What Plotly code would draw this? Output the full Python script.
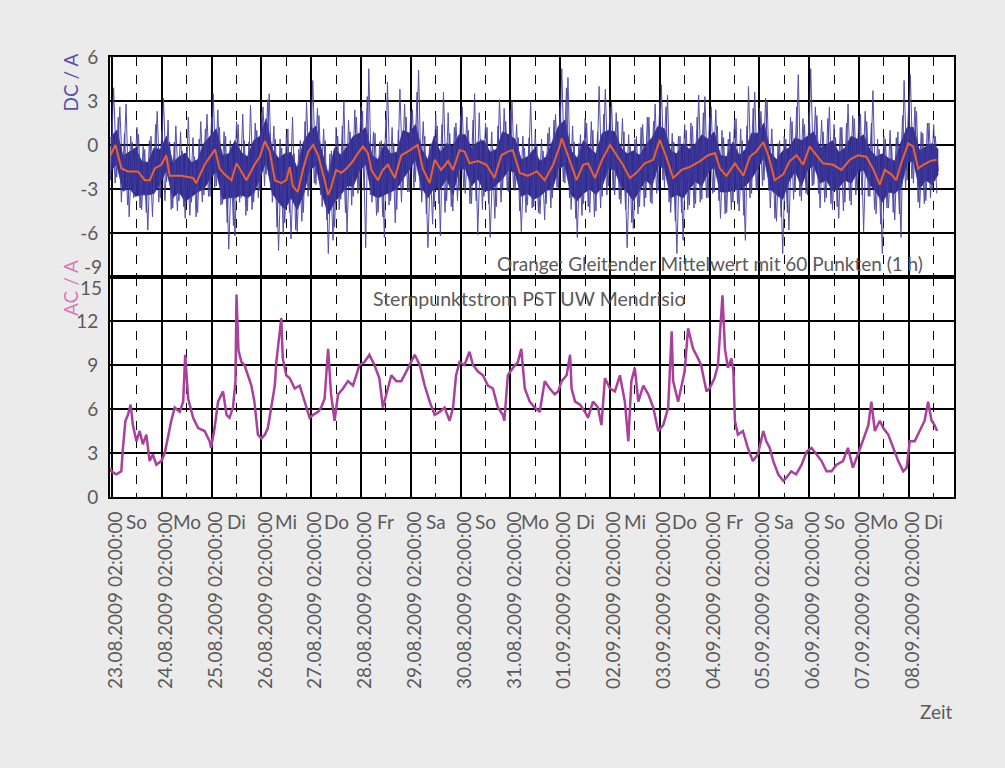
import plotly.graph_objects as go
from plotly.subplots import make_subplots

# ---------------- data ----------------
# time axis: days since 23.08.2009 02:00:00
date_labels = ["23.08.2009 02:00:00", "24.08.2009 02:00:00", "25.08.2009 02:00:00",
               "26.08.2009 02:00:00", "27.08.2009 02:00:00", "28.08.2009 02:00:00",
               "29.08.2009 02:00:00", "30.08.2009 02:00:00", "31.08.2009 02:00:00",
               "01.09.2009 02:00:00", "02.09.2009 02:00:00", "03.09.2009 02:00:00",
               "04.09.2009 02:00:00", "05.09.2009 02:00:00", "06.09.2009 02:00:00",
               "07.09.2009 02:00:00", "08.09.2009 02:00:00"]
day_names = ["So", "Mo", "Di", "Mi", "Do", "Fr", "Sa", "So", "Mo", "Di", "Mi",
             "Do", "Fr", "Sa", "So", "Mo", "Di"]

# DC raw spikes (series A), every 1.5 h starting 23.08.2009 ~01:15
dc_t0 = -0.03
dc_dt = 1.0 / 16.0
dc_raw = [
    -2.4, 3.9, -2.2, 2.6, -2.85, 2.8, -4.9, 0.2, -3.2, 0.75, -4.4, -0.3, -5.8, 0.6, -3.2, 2.3,
    -3.6, 3.2, -2.5, 0.2, -4.3, 1.3, -3.8, -0.4, -5.0, 1.9, -3.9, -0.8, -4.6, 1.6, -3.4, 2.1,
    -3.5, 3.5, -2.8, 1.2, -4.0, 0.6, -7.1, -0.6, -6.2, 1.4, -3.6, 0.3, -4.5, 2.7, -3.9, 1.0,
    -3.1, 2.6, -2.0, 3.5, -3.9, 0.4, -7.2, -0.2, -5.3, 1.1, -6.4, -0.6, -5.9, 0.3, -4.6, 2.9,
    -3.0, 4.4, -2.7, 2.0, -4.2, 0.3, -7.4, -0.4, -5.6, 0.6, -3.7, 3.0, -6.0, 0.9, -3.5, 1.9,
    -2.9, 2.3, -7.0, 5.2, -3.9, 0.8, -4.6, 0.3, -6.3, 4.3, -3.8, 0.1, -4.4, 3.8, -3.0, 1.9,
    -3.2, 2.4, -2.5, 5.1, -3.9, 0.6, -7.0, 0.1, -4.2, 1.3, -6.2, 3.6, -3.8, 0.8, -4.5, 1.5,
    -3.1, 2.6, -3.3, 1.0, -4.0, 3.5, -6.1, 0.4, -3.5, 1.2, -6.3, -0.3, -4.2, 3.1, -3.0, 1.6,
    -3.2, 3.0, -3.1, 0.5, -5.9, -0.2, -4.1, 3.0, -4.2, 0.0, -4.7, -0.4, -4.0, 1.2, -3.6, 2.1,
    -3.0, 5.2, -2.6, 4.6, -4.4, 0.2, -6.3, 0.7, -4.0, 1.5, -4.6, 1.0, -4.5, 4.0, -3.5, 3.8,
    -2.8, 2.9, -3.4, 1.6, -4.0, 0.9, -7.0, -0.1, -5.7, 0.6, -4.2, 1.4, -3.6, 1.9, -4.0, 2.8,
    -3.1, 4.1, -2.9, 3.4, -4.6, 0.2, -7.4, 0.6, -6.5, 1.0, -4.1, 1.3, -4.0, 3.4, -3.7, 3.3,
    -3.6, 2.6, -3.2, 1.3, -5.0, 0.5, -4.6, 0.9, -3.9, 1.8, -4.5, 0.3, -6.5, 4.0, -3.3, 3.6,
    -2.9, 2.3, -2.4, 3.0, -4.3, 0.0, -5.2, 0.3, -7.4, 0.4, -5.8, 1.6, -3.2, 4.8, -3.8, 1.4,
    -3.4, 5.2, -2.7, 2.0, -4.3, 0.9, -3.6, 2.6, -4.4, 0.5, -5.0, 1.2, -3.9, 2.8, -4.1, 1.8,
    -3.0, 2.1, -5.9, 1.6, -3.5, 3.7, -4.7, -0.3, -7.4, 0.4, -4.3, 0.0, -5.1, 0.9, -6.3, 4.4,
    -2.4, 4.8, -2.6, 2.3, -4.3, 0.8, -3.8, 1.5, -3.0, 0.6, -1.8,
]
# DC raw spikes (series B), every 1.5 h, shifted by 45 min
dc2_t0 = 0.00125
dc_raw2 = [
    1.6, -2.6, 1.9, -3.9, 0.8, -4.1, 0.6, -3.6, 1.2, -4.3, -0.1, -4.6, 0.3, -4.9, 1.4, -3.9,
    1.0, -3.8, 1.7, -4.4, 0.2, -4.5, 0.9, -4.2, -0.2, -4.8, 0.5, -4.9, 0.4, -3.9, 1.1, -3.5,
    1.9, -2.9, 2.4, -4.1, 0.9, -5.3, 0.3, -5.5, 1.6, -3.9, 2.1, -4.8, 0.2, -4.4, 1.5, -3.6,
    2.2, -2.8, 3.1, -3.0, 1.3, -5.6, 0.4, -6.1, 0.7, -4.6, 1.9, -5.8, -0.3, -5.2, 1.6, -3.5,
    2.9, -2.6, 2.5, -3.4, 1.1, -5.1, -0.6, -6.5, 1.2, -4.4, 1.3, -4.6, 1.7, -4.1, 2.4, -3.3,
    2.6, -3.1, 3.3, -3.4, 0.9, -4.8, 0.2, -4.9, 1.9, -4.1, 1.2, -5.3, 1.0, -3.9, 2.8, -3.2,
    2.3, -2.9, 3.6, -3.1, 1.6, -4.7, -0.1, -5.4, 2.1, -4.0, 1.4, -4.6, 2.2, -4.2, 1.2, -3.8,
    2.0, -2.9, 1.9, -4.0, 1.7, -3.8, 2.2, -4.4, 1.5, -4.0, 0.9, -5.0, 1.3, -3.9, 2.5, -3.1,
    2.4, -3.0, 1.4, -4.5, 0.6, -4.6, 0.5, -4.3, 0.9, -4.6, 0.4, -5.1, 0.8, -4.3, 1.7, -2.9,
    2.7, -2.5, 3.9, -3.6, 1.3, -5.0, 0.1, -4.8, 1.8, -4.2, 1.6, -4.9, 0.9, -4.3, 2.1, -3.4,
    2.6, -3.1, 2.2, -3.7, 1.8, -4.4, 0.7, -5.3, 0.4, -4.7, 1.2, -4.2, 1.9, -3.9, 1.6, -3.3,
    2.9, -2.4, 2.6, -3.9, 0.8, -5.2, 0.6, -4.6, 1.4, -4.4, 1.5, -4.3, 1.9, -3.9, 2.2, -3.6,
    1.9, -3.3, 2.4, -3.8, 1.0, -4.7, 0.4, -4.4, 1.7, -4.0, 1.1, -4.8, 1.3, -3.6, 2.5, -3.0,
    2.5, -2.8, 3.2, -3.1, 1.1, -5.0, 0.1, -4.9, 0.6, -4.6, 1.9, -3.7, 2.6, -3.5, 1.8, -3.3,
    2.2, -2.8, 2.6, -3.3, 1.7, -3.9, 1.8, -4.0, 1.4, -4.2, 1.2, -4.5, 1.5, -3.8, 2.0, -3.4,
    2.0, -3.4, 2.3, -3.5, 1.5, -4.4, 0.4, -5.4, 0.6, -4.3, 1.0, -4.6, 0.5, -4.7, 2.0, -3.0,
    3.0, -2.3, 2.6, -3.9, 0.9, -4.0, 1.5, -3.6, 1.4, -3.3,
]

# DC dense band (upper / lower edge of the bulk of the samples), every 3 h
band_t0 = -0.03
band_dt = 1.0 / 8.0
dc_band_hi = [
    0.5, 1.0, -0.75, -0.5, -0.2, -1.1, -1.2, -0.2,
    -0.3, 0.6, -1.2, -0.8, -0.55, -1.2, -1.0, 0.1,
    0.6, 1.1, -0.7, -0.6, 0.3, -0.5, -0.8, 0.3,
    0.6, 1.8, -0.3, -0.9, -0.6, -0.5, -1.6, 0.2,
    0.9, 1.3, -0.5, -2.0, -0.2, -0.7, -0.1, 0.6,
    0.8, 1.2, -0.7, -1.0, 0.1, -0.6, -0.5, 1.0,
    0.8, 1.4, -0.3, -1.0, 0.6, -0.5, 0.1, -0.1,
    0.7, 0.7, -0.2, 0.2, 0.3, -0.5, -0.3, 0.9,
    0.7, 0.4, -1.0, -0.8, -0.3, -1.1, -0.8, 0.2,
    1.3, 1.7, -0.4, -0.9, 0.3, -0.2, -0.6, 0.8,
    1.0, 0.9, -0.2, -0.6, -0.4, -0.7, 0.0, 0.5,
    1.3, 1.1, -0.4, -0.6, 0.1, -0.3, 0.1, 0.7,
    0.4, 0.9, -0.7, -0.8, 0.2, -0.7, -0.3, 0.8,
    0.8, 1.5, -0.5, -1.0, -0.4, -0.2, 0.5, 0.3,
    0.6, 0.9, -0.2, 0.0, 0.3, -0.5, -0.2, 0.6,
    0.4, 0.7, -0.3, -0.8, -0.6, -0.9, -1.1, 0.2,
    1.2, 1.2, -0.4, -0.1, 0.1, -0.3,
]
dc_band_lo = [
    -1.8, -1.3, -3.15, -2.9, -3.5, -3.4, -3.4, -3.3,
    -2.6, -1.7, -3.6, -3.2, -3.85, -3.5, -3.2, -3.0,
    -2.3, -1.8, -3.7, -3.6, -3.6, -3.4, -3.6, -3.3,
    -2.3, -1.1, -3.3, -3.9, -4.4, -3.6, -4.4, -3.4,
    -1.7, -1.4, -3.4, -4.7, -3.9, -3.4, -2.8, -2.8,
    -1.8, -1.3, -3.4, -3.6, -3.4, -3.2, -3.0, -2.3,
    -1.7, -1.0, -2.9, -3.6, -2.9, -3.0, -2.3, -3.4,
    -1.7, -1.6, -2.8, -2.3, -3.1, -3.1, -2.7, -2.3,
    -1.7, -1.9, -3.5, -3.3, -3.7, -3.5, -3.1, -3.0,
    -1.6, -1.4, -3.4, -3.8, -3.3, -3.0, -3.4, -2.8,
    -1.6, -1.7, -2.8, -3.2, -3.8, -3.1, -2.4, -2.8,
    -1.4, -1.6, -3.6, -3.4, -3.6, -3.0, -2.5, -2.8,
    -1.9, -1.5, -3.2, -3.2, -3.1, -3.0, -2.8, -2.3,
    -1.6, -0.8, -3.0, -3.4, -3.7, -2.5, -1.8, -2.8,
    -1.7, -1.4, -2.6, -2.4, -3.1, -2.9, -2.4, -2.6,
    -1.9, -1.7, -2.7, -3.2, -3.9, -3.2, -3.3, -2.9,
    -1.2, -1.1, -3.0, -2.4, -2.7, -2.0,
]

# Orange: moving average (60 points, 1 h)
dc_avg_t = [-0.03, 0.0, 0.07, 0.19, 0.32, 0.52, 0.66, 0.76, 0.86, 0.99, 1.09, 1.16, 1.39, 1.63,
            1.69, 1.86, 1.99, 2.07, 2.16, 2.26, 2.40, 2.50, 2.60, 2.70, 2.86, 2.97, 3.07, 3.17,
            3.27, 3.40, 3.50, 3.57, 3.63, 3.73, 3.84, 3.94, 4.04, 4.14, 4.24, 4.34, 4.40, 4.50,
            4.61, 4.71, 4.84, 4.94, 5.04, 5.14, 5.21, 5.34, 5.44, 5.54, 5.68, 5.81, 5.94, 6.08,
            6.14, 6.24, 6.38, 6.48, 6.61, 6.75, 6.85, 6.98, 7.08, 7.18, 7.35, 7.52, 7.68, 7.82,
            7.95, 8.05, 8.19, 8.35, 8.53, 8.69, 8.86, 9.00, 9.03, 9.13, 9.33, 9.46, 9.56, 9.70,
            9.83, 10.00, 10.13, 10.26, 10.40, 10.53, 10.70, 10.87, 11.00, 11.13, 11.27, 11.44,
            11.60, 11.81, 11.97, 12.11, 12.21, 12.34, 12.51, 12.68, 12.81, 12.94, 13.08, 13.18,
            13.31, 13.48, 13.61, 13.75, 13.88, 14.01, 14.15, 14.28, 14.48, 14.65, 14.82, 14.98,
            15.15, 15.28, 15.42, 15.52, 15.65, 15.75, 15.85, 15.99, 16.09, 16.19, 16.29, 16.43,
            16.56]
dc_avg = [-0.7, -0.5, 0.0, -1.6, -1.8, -1.8, -2.4, -2.4, -1.6, -1.35, -0.7, -2.1, -2.1, -2.25,
          -2.6, -1.35, -0.7, -0.3, -1.6, -2.0, -2.4, -1.25, -1.8, -2.4, -1.35, -0.8, 0.27, -0.45,
          -2.4, -2.6, -2.4, -1.5, -2.8, -3.2, -1.6, -0.45, 0.0, -0.7, -2.0, -3.4, -2.9, -1.7,
          -1.9, -1.6, -1.1, -0.55, -0.1, -0.55, -1.7, -2.4, -1.7, -1.35, -2.25, -0.7, -0.45, -0.1,
          0.0, -1.6, -2.6, -1.0, -1.7, -1.1, -1.7, -0.35, -0.45, -1.25, -1.1, -1.35, -2.25, -0.7,
          -0.45, -0.35, -1.9, -2.1, -1.8, -2.4, -1.35, 0.0, 0.45, -0.45, -2.4, -1.35, -1.25, -2.25,
          -1.1, 0.0, -0.7, -1.35, -2.25, -1.9, -1.25, -1.0, 0.35, -0.8, -2.25, -1.7,
          -1.5, -1.1, -0.7, -0.55, -1.6, -2.1, -1.25, -2.1, -0.8, -0.45, 0.2, -0.7,
          -2.4, -2.0, -1.1, -0.7, -1.35, -0.1, -0.7, -1.25, -1.35, -1.7, -1.0, -0.7,
          -0.8, -1.6, -2.7, -1.7, -2.0, -2.4, -1.25, 0.1, -0.1, -1.6, -1.35, -1.1,
          -1.0]

# AC (Sternpunktstrom)
ac_t = [-0.03, -0.013, 0.087, 0.187, 0.22, 0.27, 0.32, 0.375, 0.42, 0.49, 0.556, 0.62, 0.69,
        0.756, 0.82, 0.89, 0.99, 1.06, 1.12, 1.19, 1.26, 1.36, 1.43, 1.47, 1.53, 1.63, 1.73,
        1.86, 1.96, 1.99, 2.06, 2.13, 2.23, 2.30, 2.36, 2.43, 2.48, 2.50, 2.54, 2.60, 2.66,
        2.73, 2.80, 2.86, 2.93, 3.00, 3.07, 3.13, 3.20, 3.27, 3.30, 3.35, 3.40, 3.43, 3.50,
        3.57, 3.67, 3.77, 3.87, 3.97, 4.04, 4.14, 4.20, 4.27, 4.34, 4.40, 4.47, 4.54, 4.64,
        4.74, 4.84, 4.91, 4.97, 5.07, 5.17, 5.27, 5.37, 5.44, 5.51, 5.61, 5.71, 5.81, 5.91,
        6.01, 6.08, 6.18, 6.28, 6.38, 6.48, 6.58, 6.68, 6.78, 6.85, 6.91, 6.98, 7.08, 7.18,
        7.25, 7.35, 7.45, 7.55, 7.65, 7.75, 7.85, 7.88, 7.95, 8.05, 8.15, 8.22, 8.29, 8.39,
        8.49, 8.59, 8.69, 8.79, 8.89, 8.96, 9.03, 9.13, 9.20, 9.23, 9.30, 9.40, 9.50, 9.56,
        9.66, 9.76, 9.83, 9.90, 10.00, 10.10, 10.20, 10.30, 10.37, 10.43, 10.50, 10.57, 10.67,
        10.77, 10.87, 10.97, 11.07, 11.17, 11.24, 11.27, 11.37, 11.44, 11.50, 11.57, 11.67,
        11.77, 11.83, 11.94, 12.00, 12.10, 12.17, 12.26, 12.31, 12.37, 12.44, 12.48, 12.51,
        12.57, 12.67, 12.77, 12.87, 12.97, 13.08, 13.14, 13.21, 13.28, 13.38, 13.48, 13.54,
        13.64, 13.74, 13.85, 13.95, 14.05, 14.15, 14.25, 14.35, 14.45, 14.55, 14.68, 14.78,
        14.88, 14.98, 15.08, 15.19, 15.25, 15.32, 15.42, 15.49, 15.59, 15.69, 15.79, 15.89,
        15.96, 16.02, 16.12, 16.22, 16.32, 16.39, 16.46, 16.52, 16.57]
ac_v = [2.0, 1.75, 1.55, 1.75, 3.35, 5.2, 5.6, 6.3, 4.9, 3.8, 4.5, 3.6, 4.25,
        2.45, 2.9, 2.2, 2.45, 3.0, 4.0, 5.2, 6.1, 5.8, 6.5, 9.7, 6.7, 5.4, 4.7,
        4.5, 3.8, 3.35, 4.7, 6.5, 7.2, 5.6, 5.4, 6.1, 7.9, 13.8, 10.0, 9.2, 9.0,
        8.3, 7.6, 6.5, 4.25, 4.0, 4.25, 4.7, 6.1, 7.6, 9.2, 10.6, 12.2, 9.45, 8.3,
        8.1, 7.4, 7.6, 6.5, 5.4, 5.6, 5.8, 6.1, 6.7, 10.1, 7.0, 5.2, 7.0, 7.4,
        7.9, 7.6, 8.3, 9.0, 9.2, 9.7, 9.0, 8.1, 6.1, 7.0, 8.3, 7.9, 7.9, 8.55,
        9.2, 9.7, 9.0, 7.6, 6.5, 5.6, 5.8, 6.1, 5.2, 6.1, 8.3, 9.2, 9.0, 9.9,
        9.0, 8.55, 8.3, 7.6, 7.4, 6.1, 5.6, 5.2, 8.3, 8.8, 9.2, 10.1, 7.4, 6.5,
        6.1, 5.8, 7.9, 7.4, 7.0, 7.2, 7.9, 8.3, 9.7, 7.4, 6.5, 6.3, 5.8, 5.4,
        6.5, 6.1, 4.9, 8.1, 7.4, 7.2, 8.3, 6.5, 3.8, 7.9, 8.8, 6.5, 7.6,
        7.0, 6.1, 4.5, 4.9, 6.1, 11.3, 7.9, 6.5, 7.6, 8.55, 11.5, 10.1,
        9.45, 9.0, 7.2, 7.4, 8.1, 9.0, 13.75, 10.1, 8.8, 9.45, 8.55, 5.2,
        4.25, 4.5, 3.35, 2.45, 2.9, 4.5, 3.8, 3.35, 2.45, 1.55, 1.1, 1.3,
        1.75, 1.55, 2.2, 3.1, 3.35, 2.9, 2.45, 1.75, 1.75, 2.2, 2.45, 3.35,
        2.0, 2.9, 3.8, 4.9, 6.5, 4.5, 5.2, 4.7, 4.25, 3.35, 2.45, 1.75,
        2.0, 3.8, 3.8, 4.5, 5.2, 6.5, 5.2, 4.9, 4.5]

dc_ticks = [6, 3, 0, -3, -6]
ac_ticks = [12, 9, 6, 3, 0]

# ---------------- figure ----------------
FONT = "Lato"
TXT = "#5a5a5a"
DC_DARK = "#2f2a8e"
DC_SPIKE = "#433d9e"
dc_x = [dc_t0 + i * dc_dt for i in range(len(dc_raw))]
dc2_x = [dc2_t0 + i * dc_dt for i in range(len(dc_raw2))]
band_x = [band_t0 + i * band_dt for i in range(len(dc_band_hi))]

fig = make_subplots(rows=2, cols=1, shared_xaxes=True, vertical_spacing=0)
# dense band
fig.add_trace(go.Scatter(x=band_x, y=dc_band_lo, mode="lines",
                         line=dict(color=DC_DARK, width=0.8), showlegend=False),
              row=1, col=1)
fig.add_trace(go.Scatter(x=band_x, y=dc_band_hi, mode="lines", fill="tonexty",
                         fillcolor=DC_DARK, line=dict(color=DC_DARK, width=0.8),
                         showlegend=False), row=1, col=1)
# spikes
fig.add_trace(go.Scatter(x=dc_x, y=dc_raw, mode="lines",
                         line=dict(color=DC_SPIKE, width=1.0), opacity=0.9,
                         showlegend=False), row=1, col=1)
fig.add_trace(go.Scatter(x=dc2_x, y=dc_raw2, mode="lines",
                         line=dict(color=DC_SPIKE, width=1.0), opacity=0.9,
                         showlegend=False), row=1, col=1)
# moving average
fig.add_trace(go.Scatter(x=dc_avg_t, y=dc_avg, mode="lines",
                         line=dict(color="#ea6130", width=2.0), showlegend=False),
              row=1, col=1)
fig.add_trace(go.Scatter(x=ac_t, y=ac_v, mode="lines",
                         line=dict(color="#a8409c", width=2.5), showlegend=False),
              row=2, col=1)

xcommon = dict(range=[-0.04, 16.91], tickmode="array",
               tickvals=list(range(len(date_labels))),
               showgrid=True, gridcolor="black", gridwidth=1.6,
               showline=True, linecolor="black", linewidth=1.6, mirror=True,
               zeroline=False,
               minor=dict(tick0=0.5, dtick=1, showgrid=True, griddash="dash",
                          gridcolor="black", gridwidth=1.3))
fig.update_xaxes(**xcommon)
fig.update_xaxes(row=1, col=1, showticklabels=False, ticks="")
fig.update_xaxes(row=2, col=1, ticktext=date_labels, tickangle=-90, ticks="",
                 ticklabelstandoff=5, ticklabelshift=4,
                 tickfont=dict(family=FONT, size=19, color=TXT))

ycommon = dict(showgrid=True, gridcolor="black", gridwidth=1.6, zeroline=False,
               showline=True, linecolor="black", linewidth=1.6, mirror=True,
               ticks="", ticklabelstandoff=6,
               tickfont=dict(family=FONT, size=19, color=TXT))
fig.update_yaxes(**ycommon)
fig.update_yaxes(row=1, col=1, range=[-9, 6], tickmode="array", tickvals=dc_ticks,
                 ticktext=[str(v) for v in dc_ticks])
fig.update_yaxes(row=2, col=1, range=[0, 15], tickmode="array", tickvals=ac_ticks,
                 ticktext=[str(v) for v in ac_ticks])

ann = []
# boundary tick labels (-9 of DC, 15 of AC), offset as in the original
ann.append(dict(text="-9", xref="paper", yref="y", x=0, y=-9, xanchor="right",
                yanchor="middle", xshift=-6, yshift=11, showarrow=False,
                font=dict(family=FONT, size=19, color=TXT)))
ann.append(dict(text="15", xref="paper", yref="y2", x=0, y=15, xanchor="right",
                yanchor="middle", xshift=-6, yshift=-10, showarrow=False,
                font=dict(family=FONT, size=19, color=TXT)))
# axis titles
ann.append(dict(text="DC / A", xref="paper", yref="paper", x=-0.047, y=0.943,
                textangle=-90, showarrow=False, xanchor="center", yanchor="middle",
                font=dict(family=FONT, size=19, color="#5b4fa8")))
ann.append(dict(text="AC / A", xref="paper", yref="paper", x=-0.047, y=0.476,
                textangle=-90, showarrow=False, xanchor="center", yanchor="middle",
                font=dict(family=FONT, size=19, color="#d77ab9")))
# day names
for i, name in enumerate(day_names):
    ann.append(dict(text=name, xref="x2", yref="paper", x=i + 0.5, y=-0.056,
                    showarrow=False, xanchor="center", yanchor="middle",
                    font=dict(family=FONT, size=19, color=TXT)))
ann.append(dict(text="Orange: Gleitender Mittelwert mit 60 Punkten (1 h)", xref="paper",
                yref="paper", x=0.9656, y=0.530, xanchor="right", yanchor="middle",
                showarrow=False, font=dict(family=FONT, size=19, color=TXT)))
ann.append(dict(text="Sternpunktstrom PST UW Mendrisio", xref="paper", yref="paper",
                x=0.496, y=0.4506, xanchor="center", yanchor="middle",
                showarrow=False, font=dict(family=FONT, size=19.5, color=TXT)))
ann.append(dict(text="Zeit", xref="paper", yref="paper", x=1.001, y=-0.487,
                xanchor="right", yanchor="middle", showarrow=False,
                font=dict(family=FONT, size=19, color=TXT)))

fig.update_layout(width=1005, height=768, autosize=False,
                  margin=dict(l=110, r=51, t=57, b=270.5),
                  paper_bgcolor="#ebebeb", plot_bgcolor="white",
                  font=dict(family=FONT, color=TXT), annotations=ann,
                  showlegend=False)

fig.write_html("out.html")
